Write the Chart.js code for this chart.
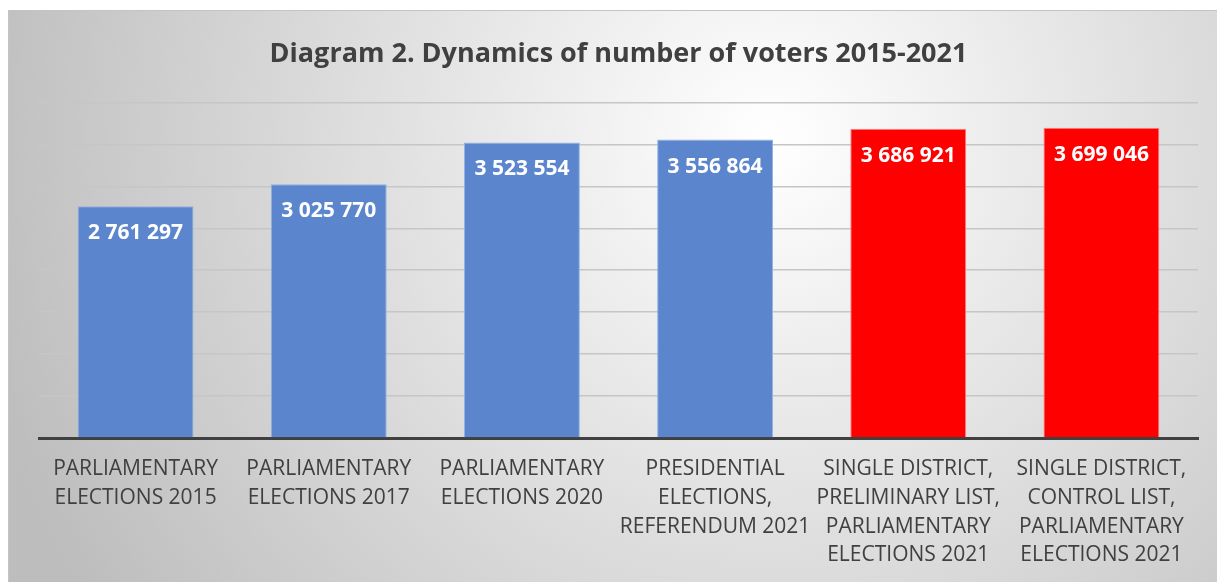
<!DOCTYPE html>
<html>
<head>
<meta charset="utf-8">
<script src="https://cdn.jsdelivr.net/npm/chart.js@4"></script>
<style>
    html, body { margin: 0; padding: 0; background: #ffffff; }
    #grafico { display: block; }
</style>
</head>
<body>
<canvas id="grafico" width="1217" height="582"></canvas>
<script>
const categorias = [
    ["PARLIAMENTARY", "ELECTIONS 2015"],
    ["PARLIAMENTARY", "ELECTIONS 2017"],
    ["PARLIAMENTARY", "ELECTIONS 2020"],
    ["PRESIDENTIAL", "ELECTIONS,", "REFERENDUM 2021"],
    ["SINGLE DISTRICT,", "PRELIMINARY LIST,", "PARLIAMENTARY", "ELECTIONS 2021"],
    ["SINGLE DISTRICT,", "CONTROL LIST,", "PARLIAMENTARY", "ELECTIONS 2021"]
];
const eleitores = [2761297, 3025770, 3523554, 3556864, 3686921, 3699046];
const coresBarras = ["#5b86cd", "#5b86cd", "#5b86cd", "#5b86cd", "#ff0000", "#ff0000"];
const coresBordas = ["#93b2e6", "#93b2e6", "#93b2e6", "#93b2e6", "#ff8080", "#ff8080"];

const fonte = "'Open Sans', 'Noto Sans', sans-serif";

function formatarEspacos(valor) {
    return String(valor).replace(/\B(?=(\d{3})+(?!\d))/g, " ");
}

// fundo cinza com brilho no centro e moldura fina
const fundoGradiente = {
    id: "fundoGradiente",
    beforeDraw(chart) {
        const ctx = chart.ctx;
        const w = chart.width, h = chart.height;
        ctx.save();
        ctx.fillStyle = "#ffffff";
        ctx.fillRect(0, 0, w, h);
        const g = ctx.createRadialGradient(770, 140, 0, 770, 140, 820);
        g.addColorStop(0, "#ffffff");
        g.addColorStop(1, "#bdbdbd");
        ctx.fillStyle = g;
        ctx.fillRect(8, 10, w - 8, h - 10);
        ctx.strokeStyle = "#c4c4c4";
        ctx.lineWidth = 1;
        ctx.strokeRect(8.5, 10.5, w, h);
        ctx.restore();
    }
};

// rótulos brancos dentro do topo de cada barra
const rotulosValores = {
    id: "rotulosValores",
    afterDatasetsDraw(chart) {
        const ctx = chart.ctx;
        const meta = chart.getDatasetMeta(0);
        ctx.save();
        ctx.font = "bold 21px " + fonte;
        ctx.fillStyle = "#ffffff";
        ctx.textAlign = "center";
        ctx.textBaseline = "middle";
        meta.data.forEach((barra, i) => {
            ctx.fillText(formatarEspacos(eleitores[i]), barra.x, barra.y + 27);
        });
        ctx.restore();
    }
};

new Chart(document.getElementById("grafico"), {
    type: "bar",
    data: {
        labels: categorias,
        datasets: [{
            data: eleitores,
            backgroundColor: coresBarras,
            borderColor: coresBordas,
            borderWidth: 1,
            categoryPercentage: 0.6,
            barPercentage: 1
        }]
    },
    options: {
        responsive: false,
        animation: false,
        layout: {
            padding: { left: 39, right: 19, top: 0, bottom: 4 }
        },
        plugins: {
            legend: { display: false },
            tooltip: { enabled: false },
            title: {
                display: true,
                text: "Diagram 2. Dynamics of number of voters 2015-2021",
                color: "#404040",
                font: { family: fonte, size: 27, weight: "bold" },
                padding: { top: 38, bottom: 32 }
            }
        },
        scales: {
            x: {
                grid: { display: false },
                border: { color: "#404040", width: 3 },
                ticks: {
                    color: "#404040",
                    font: { family: fonte, size: 21, lineHeight: 1.38 },
                    padding: 8,
                    maxRotation: 0,
                    autoSkip: false
                }
            },
            y: {
                min: 0,
                max: 4000000,
                ticks: { display: false, stepSize: 500000 },
                border: { display: false },
                grid: { color: "#c6c6c6", lineWidth: 1.5, drawTicks: false }
            }
        }
    },
    plugins: [fundoGradiente, rotulosValores]
});
</script>
</body>
</html>
